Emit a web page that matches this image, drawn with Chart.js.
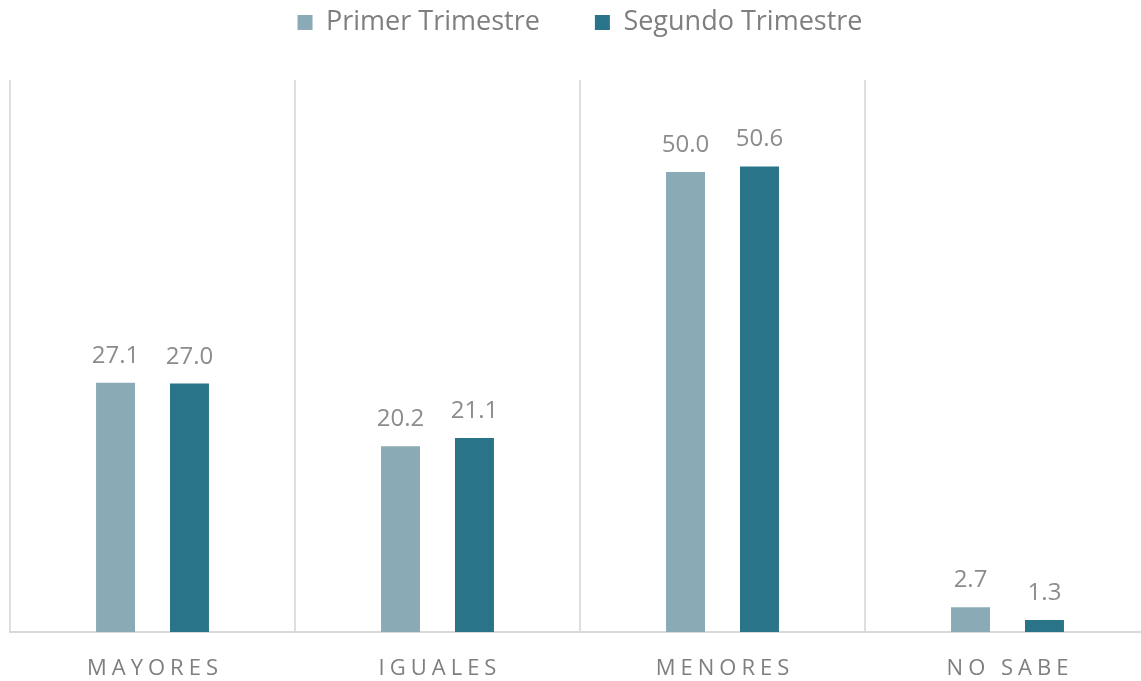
<!DOCTYPE html>
<html>
<head>
<meta charset="utf-8">
<script src="https://cdn.jsdelivr.net/npm/chart.js@4"></script>
<style>
  html, body { margin: 0; padding: 0; background: #fff; overflow: hidden; }
  #wrap { width: 1151px; height: 681px; }
</style>
</head>
<body>
<div id="wrap"><canvas id="chart"></canvas></div>
<script>
const categories = ["MAYORES", "IGUALES", "MENORES", "NO SABE"];
const seriesNames = ["Primer Trimestre", "Segundo Trimestre"];
const primer = [27.1, 20.2, 50.0, 2.7];
const segundo = [27.0, 21.1, 50.6, 1.3];

const FONT = "'Open Sans', Lato, sans-serif";

// pushes the plot down below the legend
const legendSpace = {
  id: "legendSpace",
  beforeInit(chart) {
    const fit = chart.legend.fit;
    chart.legend.fit = function () {
      fit.bind(chart.legend)();
      this.height = 126;
    };
  }
};

// value labels above bars
const barLabels = {
  id: "barLabels",
  afterDatasetsDraw(chart) {
    const ctx = chart.ctx;
    ctx.save();
    ctx.font = "24px " + FONT;
    ctx.fillStyle = "#8c8c8c";
    ctx.textAlign = "center";
    ctx.textBaseline = "alphabetic";
    chart.data.datasets.forEach((ds, i) => {
      chart.getDatasetMeta(i).data.forEach((bar, j) => {
        ctx.fillText(ds.data[j].toFixed(1), bar.x, bar.y - 20);
      });
    });
    ctx.restore();
  }
};

// spaced category labels under the axis
const catLabels = {
  id: "catLabels",
  afterDraw(chart) {
    const ctx = chart.ctx;
    const x = chart.scales.x;
    ctx.save();
    ctx.font = "22px " + FONT;
    ctx.fillStyle = "#7f7f7f";
    ctx.textAlign = "center";
    ctx.textBaseline = "alphabetic";
    ctx.letterSpacing = "5px";
    categories.forEach((c, i) => {
      ctx.fillText(c, x.getPixelForTick(i) + 2.5, 675);
    });
    ctx.restore();
  }
};

new Chart(document.getElementById("chart"), {
  type: "bar",
  data: {
    labels: categories,
    datasets: [
      { label: seriesNames[0], data: primer, backgroundColor: "#8aabb6" },
      { label: seriesNames[1], data: segundo, backgroundColor: "#2a7489" }
    ]
  },
  plugins: [legendSpace, barLabels, catLabels],
  options: {
    responsive: true,
    maintainAspectRatio: false,
    animation: false,
    layout: { padding: { top: -46, left: 10, right: 1, bottom: 49 } },
    datasets: {
      bar: { categoryPercentage: 0.519, barPercentage: 0.527 }
    },
    scales: {
      x: {
        offset: true,
        ticks: { display: false },
        grid: { display: true, offset: true, color: "#dedede", lineWidth: 2, drawTicks: false },
        border: { display: true, color: "#d9d9d9", width: 2 }
      },
      y: {
        display: false,
        min: 0,
        max: 60
      }
    },
    plugins: {
      tooltip: { enabled: false },
      legend: {
        position: "top",
        labels: {
          font: { family: FONT, size: 27 },
          color: "#7f7f7f",
          boxWidth: 15,
          boxHeight: 15,
          padding: 55
        }
      }
    }
  }
});
</script>
</body>
</html>
